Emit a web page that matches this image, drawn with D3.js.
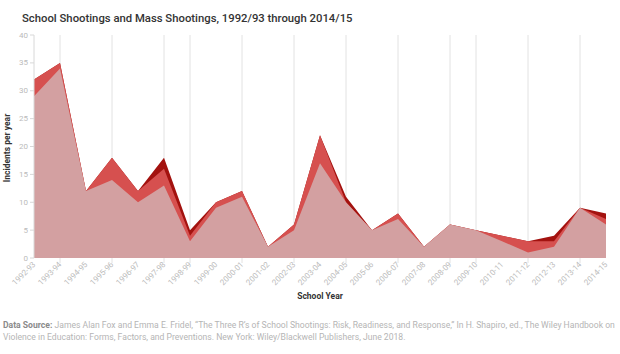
<!DOCTYPE html>
<html>
<head>
<meta charset="utf-8">
<script src="https://cdn.jsdelivr.net/npm/d3@7"></script>
<style>
  body { margin: 0; background: #fff; font-family: Roboto, 'Open Sans', sans-serif; }
  svg { display: block; }
  .title { font-size: 11.3px; font-weight: 500; fill: #333; }
  .axis-label { font-size: 8.5px; font-weight: 700; fill: #333; }
  .tick-label { font-size: 8px; fill: #bbb; }
  .source { font-size: 8.6px; fill: #b5b5b5; }
  .source .lead { font-weight: 700; fill: #8a8a8a; }
</style>
</head>
<body>
<svg id="chart" width="620" height="354"></svg>
<script>
var years = ['1992-93', '1993-94', '1994-95', '1995-96', '1996-97', '1997-98', '1998-99',
  '1999-00', '2000-01', '2001-02', '2002-03', '2003-04', '2004-05', '2005-06', '2006-07',
  '2007-08', '2008-09', '2009-10', '2010-11', '2011-12', '2012-13', '2013-14', '2014-15']

// three overlapping series, drawn back to front
var seriesDark = [32, 35, 12, 18, 12, 18, 5, 10, 12, 2, 6, 22, 11, 5, 8, 2, 6, 5, 4, 3, 4, 9, 8]
var seriesRed = [32, 35, 12, 18, 12, 16, 4, 10, 12, 2, 6, 22, 10, 5, 8, 2, 6, 5, 4, 3, 3, 9, 7]
var seriesPink = [29, 34, 12, 14, 10, 13, 3, 9, 11, 2, 5, 17, 10, 5, 7, 2, 6, 5, 3, 1, 2, 9, 6]

var gridYears = ['1993-94', '1995-96', '1997-98', '1998-99', '2000-01', '2002-03',
  '2004-05', '2006-07', '2008-09', '2009-10', '2011-12', '2013-14']

var yTicks = [0, 5, 10, 15, 20, 25, 30, 35, 40]

var titleText = 'School Shootings and Mass Shootings, 1992/93 through 2014/15'
var sourceLead = 'Data Source:'
var sourceLine1 = ' James Alan Fox and Emma E. Fridel, \u201CThe Three R\u2019s of School Shootings: Risk, Readiness, and Response,\u201D In H. Shapiro, ed., The Wiley Handbook on'
var sourceLine2 = 'Violence in Education: Forms, Factors, and Preventions. New York: Wiley/Blackwell Publishers, June 2018.'

var svg = d3.select('#chart')
var margin = { top: 35, left: 34, right: 14, bottom: 96 }
var width = +svg.attr('width')
var height = +svg.attr('height')
var chartWidth = width - margin.left - margin.right
var chartHeight = height - margin.top - margin.bottom

var x = d3.scalePoint()
  .domain(years)
  .range([0, chartWidth])

var y = d3.scaleLinear()
  .domain([0, 40])
  .range([chartHeight, 0])

svg.append('text')
  .attr('class', 'title')
  .attr('x', 22)
  .attr('y', 22)
  .text(titleText)

var g = svg.append('g')
  .attr('transform', 'translate(' + margin.left + ',' + margin.top + ')')

// vertical grid lines
g.selectAll('.grid')
  .data(gridYears).enter().append('line')
  .attr('class', 'grid')
  .attr('x1', function (d) { return x(d) })
  .attr('x2', function (d) { return x(d) })
  .attr('y1', 0)
  .attr('y2', chartHeight + 5)
  .attr('stroke', '#e2e2e2')
  .attr('stroke-width', 1)

function areaFor (values) {
  return d3.area()
    .x(function (d, i) { return x(years[i]) })
    .y0(y(0))
    .y1(function (d) { return y(d) })(values)
}

var layers = [
  { values: seriesDark, color: '#a3120f' },
  { values: seriesRed, color: '#d6504f' },
  { values: seriesPink, color: '#d3a0a1' }
]

g.selectAll('.layer')
  .data(layers).enter().append('path')
  .attr('class', 'layer')
  .attr('fill', function (d) { return d.color })
  .attr('d', function (d) { return areaFor(d.values) })

// y axis
var gY = g.append('g')
gY.append('line')
  .attr('x1', 0).attr('x2', 0)
  .attr('y1', y(40)).attr('y2', y(0))
  .attr('stroke', '#d8d8d8')
gY.selectAll('.ytick')
  .data(yTicks).enter().append('line')
  .attr('x1', -4).attr('x2', 0)
  .attr('y1', function (d) { return y(d) })
  .attr('y2', function (d) { return y(d) })
  .attr('stroke', '#d8d8d8')
gY.selectAll('.ylab')
  .data(yTicks).enter().append('text')
  .attr('class', 'tick-label')
  .attr('x', -6)
  .attr('y', function (d) { return y(d) })
  .attr('dy', '0.32em')
  .attr('text-anchor', 'end')
  .text(function (d) { return d })

// x labels
g.selectAll('.xlab')
  .data(years).enter().append('text')
  .attr('class', 'tick-label')
  .attr('text-anchor', 'end')
  .attr('transform', function (d) {
    return 'translate(' + (x(d) + 2) + ',' + (chartHeight + 7) + ') rotate(-45)'
  })
  .text(function (d) { return d })

svg.append('text')
  .attr('class', 'axis-label')
  .attr('x', margin.left + chartWidth / 2)
  .attr('y', 299)
  .attr('text-anchor', 'middle')
  .text('School Year')

svg.append('text')
  .attr('class', 'axis-label')
  .attr('transform', 'translate(10,' + (margin.top + 113) + ') rotate(-90)')
  .attr('text-anchor', 'middle')
  .text('Incidents per year')

var src = svg.append('text')
  .attr('class', 'source')
  .attr('x', 3)
  .attr('y', 328)
src.append('tspan').attr('class', 'lead').text(sourceLead)
src.append('tspan').text(sourceLine1)

svg.append('text')
  .attr('class', 'source')
  .attr('x', 3)
  .attr('y', 340)
  .text(sourceLine2)
</script>
</body>
</html>
